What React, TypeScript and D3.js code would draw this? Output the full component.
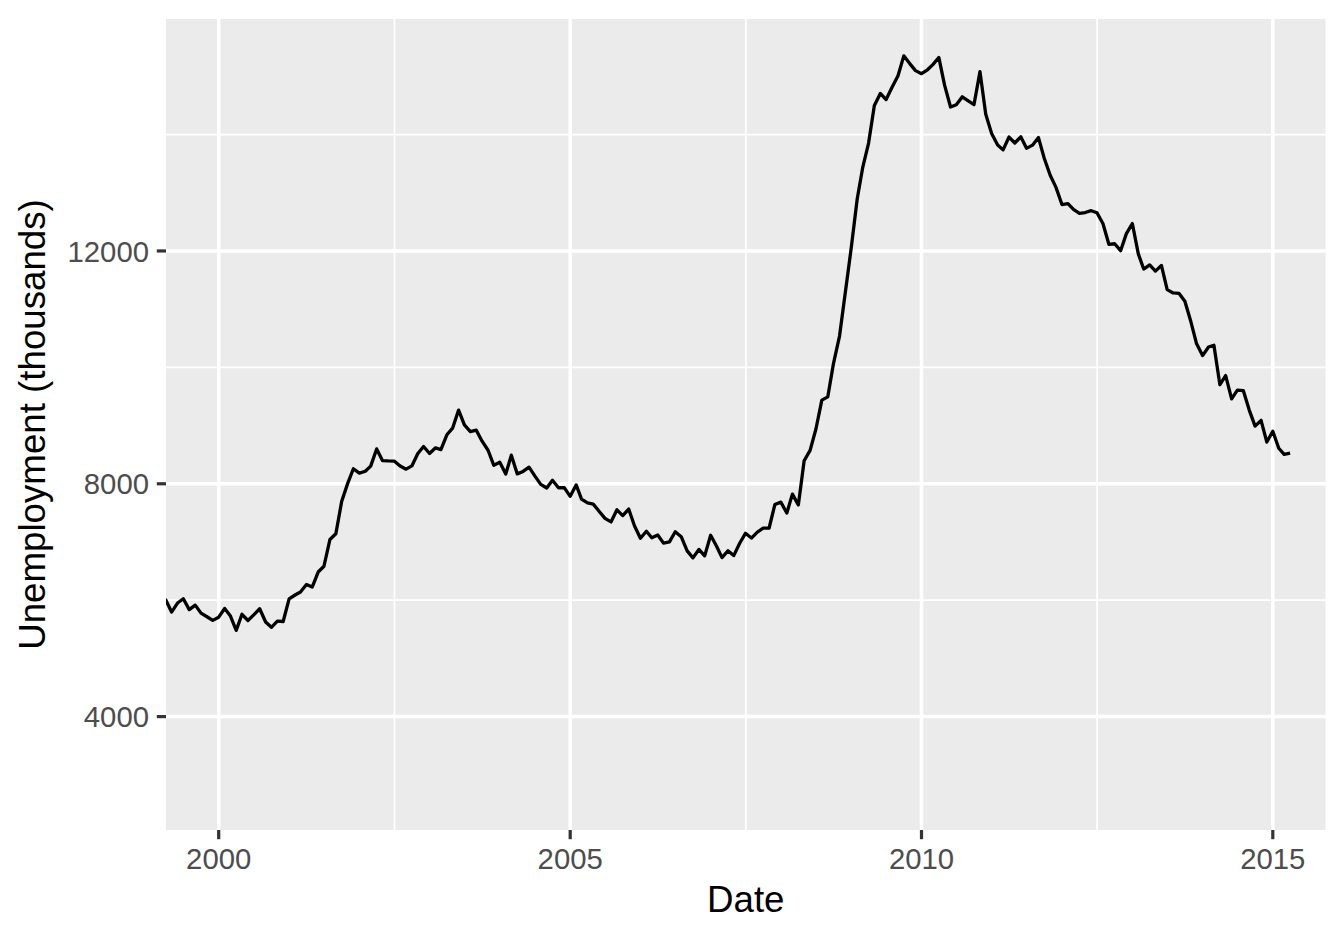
import React from 'react';
import * as d3 from 'd3';

// Monthly unemployment (thousands), Jan..Dec for each year
const years = [1999, 2000, 2001, 2002, 2003, 2004, 2005, 2006, 2007, 2008, 2009, 2010, 2011, 2012, 2013, 2014, 2015];
const u1999 = [5976, 6111, 5783, 6004, 5796, 5951, 6025, 5838, 5915, 5778, 5716, 5653];
const u2000 = [5708, 5858, 5733, 5481, 5758, 5651, 5747, 5853, 5625, 5534, 5639, 5634];
const u2001 = [6023, 6089, 6141, 6271, 6226, 6484, 6583, 7042, 7142, 7694, 8003, 8258];
const u2002 = [8182, 8215, 8304, 8599, 8399, 8393, 8390, 8304, 8251, 8307, 8520, 8640];
const u2003 = [8520, 8618, 8588, 8842, 8957, 9266, 9011, 8896, 8921, 8732, 8576, 8317];
const u2004 = [8370, 8167, 8491, 8170, 8212, 8286, 8136, 7990, 7927, 8061, 7932, 7934];
const u2005 = [7784, 7980, 7737, 7672, 7651, 7524, 7406, 7345, 7553, 7453, 7566, 7279];
const u2006 = [7064, 7184, 7072, 7120, 6980, 7001, 7175, 7091, 6847, 6727, 6872, 6762];
const u2007 = [7116, 6927, 6731, 6850, 6766, 6979, 7149, 7067, 7170, 7237, 7240, 7645];
const u2008 = [7685, 7497, 7822, 7637, 8395, 8575, 8937, 9438, 9494, 10074, 10538, 11286];
const u2009 = [12058, 12898, 13426, 13853, 14499, 14707, 14601, 14814, 15009, 15352, 15219, 15098];
const u2010 = [15046, 15113, 15202, 15325, 14849, 14474, 14512, 14648, 14579, 14516, 15081, 14348];
const u2011 = [14013, 13820, 13737, 13957, 13855, 13962, 13763, 13818, 13948, 13594, 13302, 13093];
const u2012 = [12797, 12813, 12713, 12646, 12660, 12692, 12656, 12471, 12115, 12124, 12005, 12298];
const u2013 = [12471, 11950, 11689, 11760, 11654, 11751, 11335, 11279, 11270, 11136, 10787, 10404];
const u2014 = [10202, 10349, 10380, 9702, 9859, 9460, 9608, 9599, 9262, 8990, 9090, 8717];
const u2015 = [8903, 8610, 8504, 8526];
const valuesByYear = [u1999, u2000, u2001, u2002, u2003, u2004, u2005, u2006, u2007, u2008, u2009, u2010, u2011, u2012, u2013, u2014, u2015];

// Extent of the full series (1967-2015) that sets the y range
const seriesExtent = [2685, 15352];
const xLimits = ['2000-01-01', '2015-01-01'];
const xTicks = ['2000-01-01', '2005-01-01', '2010-01-01', '2015-01-01'];
const xTickLabels = ['2000', '2005', '2010', '2015'];
const yTicks = [4000, 8000, 12000];
const yMinorTicks = [6000, 10000, 14000];

const W = 1344, H = 940;
const panel = { left: 166, right: 1325.5, top: 19, bottom: 830 };
const FONT = '"Liberation Sans", Arial, Helvetica, sans-serif';

export default function App() {
  const data: { date: Date; value: number }[] = [];
  years.forEach((y, i) => {
    valuesByYear[i].forEach((v, m) => data.push({ date: new Date(Date.UTC(y, m, 1)), value: v }));
  });

  const lim = xLimits.map((s) => new Date(s + 'T00:00:00Z').getTime());
  const xPad = (lim[1] - lim[0]) * 0.05;
  const x = d3.scaleUtc()
    .domain([new Date(lim[0] - xPad), new Date(lim[1] + xPad)])
    .range([panel.left, panel.right]);
  const yPad = (seriesExtent[1] - seriesExtent[0]) * 0.05;
  const y = d3.scaleLinear()
    .domain([seriesExtent[0] - yPad, seriesExtent[1] + yPad])
    .range([panel.bottom, panel.top]);

  const xt = xTicks.map((s) => new Date(s + 'T00:00:00Z'));
  const xMinor = xt.slice(1).map((d, i) => new Date((d.getTime() + xt[i].getTime()) / 2));

  const line = d3.line<{ date: Date; value: number }>()
    .x((d) => x(d.date))
    .y((d) => y(d.value));

  const pw = panel.right - panel.left;
  const ph = panel.bottom - panel.top;
  const major = 3.5, minor = 1.75;

  return (
    <svg width={W} height={H} style={{ position: 'fixed', left: 0, top: 0, display: 'block', background: '#fff' }} fontFamily={FONT}>
      <defs>
        <clipPath id="panelClip">
          <rect x={panel.left} y={panel.top} width={pw} height={ph} />
        </clipPath>
      </defs>
      <rect x={panel.left} y={panel.top} width={pw} height={ph} fill="#EBEBEB" />
      {yMinorTicks.map((t) => (
        <line key={'ym' + t} x1={panel.left} x2={panel.right} y1={y(t)} y2={y(t)} stroke="#fff" strokeWidth={minor} />
      ))}
      {xMinor.map((d, i) => (
        <line key={'xm' + i} x1={x(d)} x2={x(d)} y1={panel.top} y2={panel.bottom} stroke="#fff" strokeWidth={minor} />
      ))}
      {yTicks.map((t) => (
        <line key={'y' + t} x1={panel.left} x2={panel.right} y1={y(t)} y2={y(t)} stroke="#fff" strokeWidth={major} />
      ))}
      {xt.map((d, i) => (
        <line key={'x' + i} x1={x(d)} x2={x(d)} y1={panel.top} y2={panel.bottom} stroke="#fff" strokeWidth={major} />
      ))}
      <path d={line(data) || ''} fill="none" stroke="#000" strokeWidth={3.3} strokeLinejoin="round" clipPath="url(#panelClip)" />
      {/* y axis */}
      {yTicks.map((t) => (
        <g key={'yt' + t}>
          <line x1={panel.left - 9.2} x2={panel.left} y1={y(t)} y2={y(t)} stroke="#333" strokeWidth={3.2} />
          <text x={panel.left - 17} y={y(t)} dy="0.36em" textAnchor="end" fontSize={29.3} fill="#4D4D4D">{t}</text>
        </g>
      ))}
      {/* x axis */}
      {xt.map((d, i) => (
        <g key={'xt' + i}>
          <line x1={x(d)} x2={x(d)} y1={panel.bottom} y2={panel.bottom + 9.2} stroke="#333" strokeWidth={3.2} />
          <text x={x(d)} y={869} textAnchor="middle" fontSize={29.3} fill="#4D4D4D">{xTickLabels[i]}</text>
        </g>
      ))}
      <text x={(panel.left + panel.right) / 2} y={911.5} textAnchor="middle" fontSize={36.7} fill="#000">Date</text>
      <text transform={`translate(45,${(panel.top + panel.bottom) / 2}) rotate(-90)`} textAnchor="middle" fontSize={36.7} fill="#000">Unemployment (thousands)</text>
    </svg>
  );
}
